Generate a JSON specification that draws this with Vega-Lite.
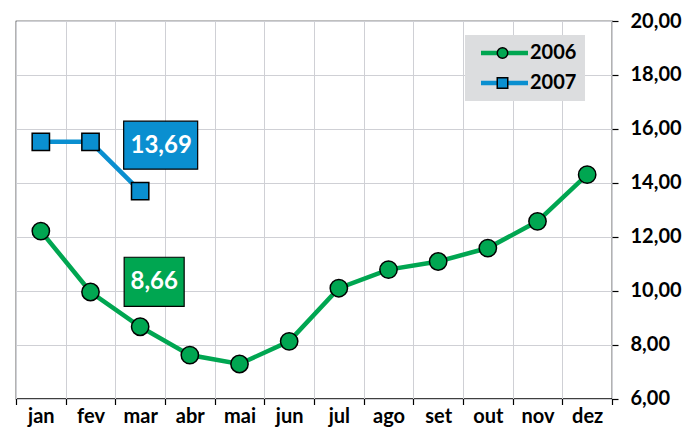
{
  "$schema": "https://vega.github.io/schema/vega-lite/v6.json",
  "width": 596,
  "height": 377.5,
  "padding": {"left": 15, "top": 11, "right": 0, "bottom": 0},
  "background": "white",
  "config": {
    "locale": {"number": {"decimal": ",", "thousands": ".", "grouping": [3], "currency": ["R$ ", ""]}},
    "view": {"stroke": "#000", "strokeWidth": 1.2},
    "font": "Lato"
  },
  "datasets": {
    "serie": [
      {"mes": "jan", "ano": "2006", "valor": 12.21},
      {"mes": "fev", "ano": "2006", "valor": 9.95},
      {"mes": "mar", "ano": "2006", "valor": 8.66},
      {"mes": "abr", "ano": "2006", "valor": 7.61},
      {"mes": "mai", "ano": "2006", "valor": 7.28},
      {"mes": "jun", "ano": "2006", "valor": 8.12},
      {"mes": "jul", "ano": "2006", "valor": 10.09},
      {"mes": "ago", "ano": "2006", "valor": 10.78},
      {"mes": "set", "ano": "2006", "valor": 11.08},
      {"mes": "out", "ano": "2006", "valor": 11.58},
      {"mes": "nov", "ano": "2006", "valor": 12.57},
      {"mes": "dez", "ano": "2006", "valor": 14.30},
      {"mes": "jan", "ano": "2007", "valor": 15.52},
      {"mes": "fev", "ano": "2007", "valor": 15.52},
      {"mes": "mar", "ano": "2007", "valor": 13.69}
    ],
    "notas": [
      {"mes": "mar", "ano": "2007", "valor": 13.69, "rotulo": "13,69"},
      {"mes": "mar", "ano": "2006", "valor": 8.66, "rotulo": "8,66"}
    ]
  },
  "encoding": {
    "x": {
      "field": "mes",
      "type": "ordinal",
      "sort": ["jan", "fev", "mar", "abr", "mai", "jun", "jul", "ago", "set", "out", "nov", "dez"],
      "scale": {"type": "band", "paddingInner": 0, "paddingOuter": 0},
      "axis": {
        "orient": "bottom",
        "title": null,
        "tickBand": "extent",
        "grid": true,
        "gridColor": "#cfd0d5",
        "gridWidth": 1,
        "domain": false,
        "ticks": true,
        "tickColor": "#000",
        "tickSize": 6,
        "tickWidth": 1.2,
        "labelAngle": 0,
        "labelFont": "Lato",
        "labelFontSize": 20,
        "labelFontWeight": "bold",
        "labelColor": "#000",
        "labelPadding": 2
      }
    },
    "y": {
      "field": "valor",
      "type": "quantitative",
      "scale": {"domain": [6, 20], "nice": false, "zero": false},
      "axis": {
        "orient": "right",
        "title": null,
        "values": [6, 8, 10, 12, 14, 16, 18, 20],
        "format": ".2f",
        "grid": true,
        "gridColor": "#cfd0d5",
        "gridWidth": 1,
        "domain": false,
        "ticks": true,
        "tickColor": "#000",
        "tickSize": 6,
        "tickWidth": 1.2,
        "labelFont": "Lato",
        "labelFontSize": 20,
        "labelFontWeight": "bold",
        "labelColor": "#000",
        "labelPadding": 12
      }
    }
  },
  "layer": [
    {
      "data": {"name": "serie"},
      "mark": {"type": "line", "strokeWidth": 4.5},
      "encoding": {
        "order": {"value": null},
        "color": {
          "field": "ano",
          "type": "nominal",
          "scale": {"domain": ["2006", "2007"], "range": ["#00a651", "#0a8fd0"]},
          "legend": {
            "orient": "none",
            "legendX": 449,
            "legendY": 14,
            "title": null,
            "symbolType": "M-0.756,0H1.333",
            "symbolSize": 2025,
            "symbolStrokeWidth": 4.5,
            "labelFont": "Lato",
            "labelFontSize": 20,
            "labelFontWeight": "bold",
            "labelColor": "#000",
            "labelOffset": 7,
            "fillColor": "#dcdddf",
            "padding": 8,
            "rowPadding": 10,
            "clipHeight": 20,
            "zindex": 1
          }
        }
      }
    },
    {
      "data": {"name": "serie"},
      "mark": {"type": "point", "filled": true, "size": 300, "stroke": "#000", "strokeWidth": 1.5, "opacity": 1},
      "encoding": {
        "color": {
          "field": "ano",
          "type": "nominal",
          "scale": {"domain": ["2006", "2007"], "range": ["#00a651", "#0a8fd0"]},
          "legend": {
            "orient": "none",
            "legendX": 468.5,
            "legendY": 14,
            "title": null,
            "symbolSize": 110,
            "symbolStrokeColor": "#000",
            "symbolStrokeWidth": 1.5,
            "labelExpr": "''",
            "labelFontSize": 20,
            "padding": 8,
            "rowPadding": 10,
            "clipHeight": 20,
            "zindex": 2
          }
        },
        "shape": {
          "field": "ano",
          "type": "nominal",
          "scale": {"domain": ["2006", "2007"], "range": ["circle", "square"]},
          "legend": {
            "orient": "none",
            "legendX": 468.5,
            "legendY": 14,
            "title": null,
            "symbolSize": 110,
            "symbolStrokeColor": "#000",
            "symbolStrokeWidth": 1.5,
            "labelExpr": "''",
            "labelFontSize": 20,
            "padding": 8,
            "rowPadding": 10,
            "clipHeight": 20,
            "zindex": 2
          }
        }
      }
    },
    {
      "data": {"name": "notas"},
      "transform": [{"filter": "datum.ano == '2007'"}],
      "layer": [
        {
          "mark": {"type": "point", "shape": "M-1,-0.6486H1V0.6486H-1Z", "size": 5476, "filled": true, "fill": "#0a8fd0", "stroke": "#000", "strokeWidth": 1.2, "opacity": 1, "xOffset": 20.5, "yOffset": -46}
        },
        {
          "mark": {"type": "text", "font": "Lato", "fontSize": 24, "fontWeight": "bold", "color": "#ffffff", "align": "center", "baseline": "middle", "dx": 21, "dy": -45.5},
          "encoding": {"text": {"field": "rotulo"}}
        }
      ]
    },
    {
      "data": {"name": "notas"},
      "transform": [{"filter": "datum.ano == '2006'"}],
      "layer": [
        {
          "mark": {"type": "point", "shape": "M-1,-0.8167H1V0.8167H-1Z", "size": 3600, "filled": true, "fill": "#00a651", "stroke": "#000", "strokeWidth": 1.2, "opacity": 1, "xOffset": 14, "yOffset": -45}
        },
        {
          "mark": {"type": "text", "font": "Lato", "fontSize": 24, "fontWeight": "bold", "color": "#ffffff", "align": "center", "baseline": "middle", "dx": 14, "dy": -44.5},
          "encoding": {"text": {"field": "rotulo"}}
        }
      ]
    }
  ],
  "resolve": {"legend": {"color": "independent", "shape": "independent"}}
}
